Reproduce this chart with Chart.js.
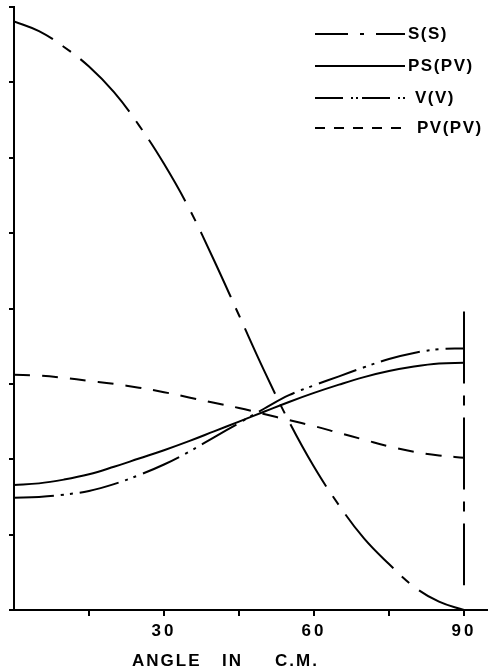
<!DOCTYPE html>
<html>
<head>
<meta charset="utf-8">
<script src="https://cdn.jsdelivr.net/npm/chart.js@4"></script>
<style>
  html, body { margin: 0; padding: 0; background: #fff; }
  canvas { display: block; }
</style>
</head>
<body>
<canvas id="chart" width="488" height="670"></canvas>
<script>
// Angles in degrees (C.M.) and the curve values
const angles = [0, 5, 10, 15, 20, 25, 30, 35, 40, 45, 50, 55, 60, 65, 70, 75, 80, 85, 90];
const sS   = [7.81, 7.68, 7.47, 7.21, 6.87, 6.43, 5.92, 5.33, 4.64, 3.91, 3.18, 2.50, 1.90, 1.39, 0.95, 0.61, 0.31, 0.11, 0.0];
const psPV = [1.66, 1.68, 1.73, 1.80, 1.90, 2.01, 2.12, 2.24, 2.37, 2.50, 2.63, 2.76, 2.88, 2.99, 3.09, 3.17, 3.23, 3.27, 3.28];
const vV   = [1.49, 1.50, 1.53, 1.58, 1.67, 1.79, 1.93, 2.10, 2.29, 2.48, 2.67, 2.85, 2.98, 3.10, 3.22, 3.33, 3.41, 3.46, 3.47];
const pvPV = [3.12, 3.11, 3.08, 3.04, 3.00, 2.95, 2.89, 2.82, 2.75, 2.68, 2.60, 2.52, 2.44, 2.35, 2.26, 2.17, 2.10, 2.05, 2.02];

// vertical marker at 90 degrees
const markerX = [90, 90];
const markerY = [3.96, 0.33];

const xTicks = [15, 30, 45, 60, 75, 90];
const xLabels = [30, 60, 90];
const labels = ['S(S)', 'PS(PV)', 'V(V)', 'PV(PV)'];
const axisTitle = ['ANGLE', 'IN', 'C.M.'];

const dashS = [72, 12, 10, 12];
const dashV = [40, 7, 3, 6, 3, 7];
const dashPV = [16, 12];

function pts(xs, ys) {
    return xs.map((x, i) => ({ x: x, y: ys[i] }));
}

function curve(label, ys, dash, offset) {
    return {
        label: label,
        data: pts(angles, ys),
        borderColor: '#000',
        borderWidth: 2,
        borderDash: dash,
        borderDashOffset: offset || 0,
        pointRadius: 0,
        fill: false,
        tension: 0.4
    };
}

// legend in the top right, drawn by hand so it can sit inside the plot
const legendPlugin = {
    id: 'handLegend',
    beforeDraw(chart) {
        chart.ctx.letterSpacing = '3px';
    },
    afterDraw(chart) {
        const ctx = chart.ctx;
        const rows = [
            { dash: [33, 12, 4, 12], y: 34, tx: 408 },
            { dash: [], y: 66, tx: 408 },
            { dash: [28, 8, 2, 3, 2, 4], y: 98, tx: 415 },
            { dash: [10, 9], y: 128, tx: 417 }
        ];
        ctx.save();
        ctx.strokeStyle = '#000';
        ctx.fillStyle = '#000';
        ctx.lineWidth = 2;
        ctx.font = 'bold 17px "Liberation Sans"';
        ctx.letterSpacing = '1.5px';
        ctx.textBaseline = 'middle';
        ctx.textAlign = 'left';
        rows.forEach((r, i) => {
            ctx.setLineDash(r.dash);
            ctx.beginPath();
            ctx.moveTo(315, r.y);
            ctx.lineTo(405, r.y);
            ctx.stroke();
            ctx.fillText(labels[i], r.tx, r.y);
        });

        // x axis title, widely spaced like the original lettering
        ctx.setLineDash([]);
        ctx.letterSpacing = '2px';
        const wx = [132, 222, 275];
        axisTitle.forEach((w, i) => ctx.fillText(w, wx[i], 661));
        ctx.restore();
        ctx.letterSpacing = '0px';
    }
};

new Chart(document.getElementById('chart'), {
    type: 'line',
    data: {
        datasets: [
            curve(labels[0], sS, dashS, 29),
            curve(labels[1], psPV, []),
            curve(labels[2], vV, dashV),
            curve(labels[3], pvPV, dashPV),
            {
                label: '',
                data: pts(markerX, markerY),
                borderColor: '#000',
                borderWidth: 2,
                borderDash: dashS,
                pointRadius: 0,
                fill: false
            }
        ]
    },
    options: {
        responsive: false,
        animation: false,
        layout: { padding: { top: 7, right: 0, left: 0, bottom: 0 } },
        plugins: {
            legend: { display: false },
            tooltip: { enabled: false }
        },
        scales: {
            x: {
                type: 'linear',
                min: 0,
                max: 94.8,
                border: { color: '#000', width: 2 },
                grid: { drawOnChartArea: false, drawTicks: true, tickLength: 6, color: '#000', lineWidth: 2 },
                afterBuildTicks: scale => { scale.ticks = xTicks.map(v => ({ value: v })); },
                ticks: {
                    color: '#000',
                    padding: 5,
                    maxRotation: 0,
                    autoSkip: false,
                    font: { family: 'Liberation Sans', size: 17, weight: 'bold' },
                    callback: v => xLabels.includes(v) ? String(v) : ''
                },
                afterFit: scale => { scale.height = 60; }
            },
            y: {
                min: 0,
                max: 8,
                border: { color: '#000', width: 2 },
                grid: { drawOnChartArea: false, drawTicks: true, tickLength: 5, color: '#000', lineWidth: 2 },
                ticks: { display: false, stepSize: 1 },
                afterFit: scale => { scale.width = 14; }
            }
        }
    },
    plugins: [legendPlugin]
});
</script>
</body>
</html>
